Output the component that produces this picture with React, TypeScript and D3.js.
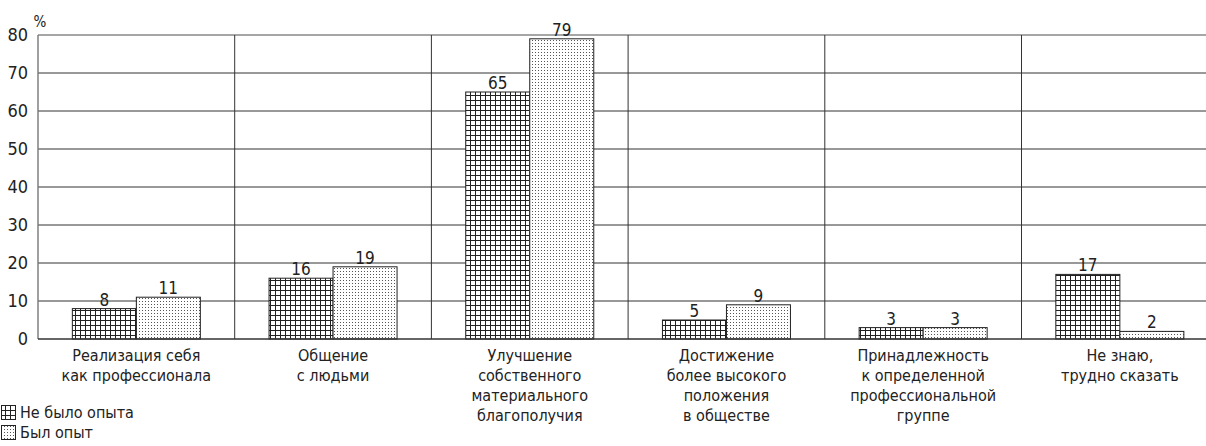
import React from "react";
import * as d3 from "d3";

const categories: string[][] = [
  ["Реализация себя", "как профессионала"],
  ["Общение", "с людьми"],
  ["Улучшение", "собственного", "материального", "благополучия"],
  ["Достижение", "более высокого", "положения", "в обществе"],
  ["Принадлежность", "к определенной", "профессиональной", "группе"],
  ["Не знаю,", "трудно сказать"],
];
const noExperience = [8, 16, 65, 5, 3, 17];
const experience = [11, 19, 79, 9, 3, 2];
const yTicks = [0, 10, 20, 30, 40, 50, 60, 70, 80];
const seriesNames = ["Не было опыта", "Был опыт"];

const W = 1206;
const H = 446;
const FONT = "'Liberation Sans Narrow', 'DejaVu Sans Condensed', 'Roboto', sans-serif";
const TXT = "#222";

export default function App() {
  const left = 38;
  const bandW = 196.7;
  const x = d3
    .scaleBand<number>()
    .domain(d3.range(categories.length))
    .range([left, left + bandW * categories.length])
    .padding(0);
  const y = d3.scaleLinear().domain([0, 80]).range([339, 35]);
  const barW = 64;

  return (
    <svg
      width={W}
      height={H}
      style={{ position: "absolute", left: 0, top: 0, background: "#fff" }}
      fontFamily={FONT}
    >
      <defs>
        <pattern id="grid" width={5} height={5} patternUnits="userSpaceOnUse">
          <rect width={5} height={5} fill="#fff" />
          <path d="M0,0.5H5M0.5,0V5" stroke="#222" strokeWidth={1} />
        </pattern>
        <pattern id="dots" width={3} height={3} patternUnits="userSpaceOnUse">
          <rect width={3} height={3} fill="#fff" />
          <rect x={1} y={1} width={1} height={1} fill="#555" />
        </pattern>
      </defs>

      {/* gridlines */}
      {yTicks.slice(1).map((t) => (
        <line
          key={t}
          x1={left}
          x2={W}
          y1={y(t)}
          y2={y(t)}
          stroke={t === 80 ? "#888" : "#333"}
          strokeWidth={t === 80 ? 1.6 : 1}
        />
      ))}
      {/* vertical separators */}
      {d3.range(1, categories.length).map((i) => (
        <line
          key={i}
          x1={x(i)!}
          x2={x(i)!}
          y1={y(80)}
          y2={y(0)}
          stroke="#333"
          strokeWidth={1}
        />
      ))}
      <line x1={left} x2={left} y1={y(80)} y2={y(0)} stroke="#777" strokeWidth={1.4} />

      {/* bars */}
      {categories.map((_, i) => {
        const cx = x(i)! + x.bandwidth() / 2;
        return (
          <g key={i}>
            <rect
              x={cx - barW}
              y={y(noExperience[i])}
              width={barW}
              height={y(0) - y(noExperience[i])}
              fill="url(#grid)"
              stroke="#222"
              strokeWidth={1}
            />
            <rect
              x={cx}
              y={y(experience[i])}
              width={barW}
              height={y(0) - y(experience[i])}
              fill="url(#dots)"
              stroke="#222"
              strokeWidth={1}
            />
            <text
              x={cx - barW / 2}
              y={y(noExperience[i]) - 3}
              textAnchor="middle"
              fontSize={17}
              fill={TXT}
            >
              {noExperience[i]}
            </text>
            <text
              x={cx + barW / 2}
              y={y(experience[i]) - 3}
              textAnchor="middle"
              fontSize={17}
              fill={TXT}
            >
              {experience[i]}
            </text>
            <text textAnchor="middle" fontSize={16} fill={TXT}>
              {categories[i].map((ln, j) => (
                <tspan key={j} x={cx} y={361 + j * 20}>
                  {ln}
                </tspan>
              ))}
            </text>
          </g>
        );
      })}

      {/* baseline */}
      <line x1={left} x2={W} y1={y(0)} y2={y(0)} stroke="#333" strokeWidth={1.4} />

      {/* y tick labels */}
      {yTicks.map((t) => (
        <text
          key={t}
          x={28}
          y={y(t)}
          dy="0.36em"
          textAnchor="end"
          fontSize={18}
          fill={TXT}
        >
          {t}
        </text>
      ))}
      <text x={40} y={27} textAnchor="middle" fontSize={15} fill={TXT}>
        %
      </text>

      {/* legend */}
      {seriesNames.map((n, i) => (
        <g key={n} transform={`translate(0, ${405 + i * 20})`}>
          <rect
            x={1.5}
            y={0.5}
            width={14}
            height={14}
            fill={i === 0 ? "url(#grid)" : "url(#dots)"}
            stroke="#222"
          />
          <text x={20} y={13} fontSize={16} fill={TXT}>
            {n}
          </text>
        </g>
      ))}
    </svg>
  );
}
